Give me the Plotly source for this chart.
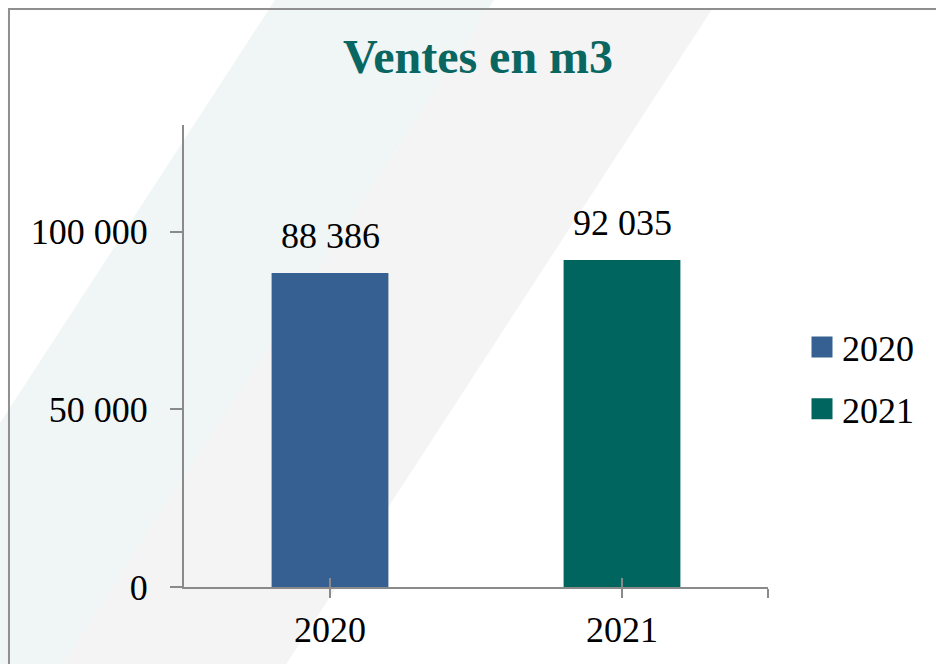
import plotly.graph_objects as go

# ---- data ----
categories = ["2020", "2021"]
values = [88386, 92035]
bar_colors = ["#366092", "#00645F"]
y_tick_vals = [0, 50000, 100000]
y_tick_text = ["0", "50 000", "100 000"]
title_text = "Ventes en m3"

FONT = "Liberation Serif, Times New Roman, serif"
AXIS_COLOR = "#8A8A8A"

W, H = 936, 664
L, R, T, B = 184, 168, 125, 77
PW, PH = W - L - R, H - T - B


def px2paper(px, py):
    return (px - L) / PW, (H - B - py) / PH


def path_from_px(points, close=True):
    pts = [px2paper(x, y) for x, y in points]
    return "M" + " L".join(f"{x:.4f},{y:.4f}" for x, y in pts) + (" Z" if close else "")


xs = list(range(len(categories)))

fig = go.Figure()
fig.add_trace(go.Bar(
    x=xs, y=values, width=0.4,
    marker=dict(color=bar_colors, line=dict(width=0)),
    showlegend=False, hoverinfo="skip",
))

# legend entries
for cat, col in zip(categories, bar_colors):
    fig.add_trace(go.Scatter(
        x=[None], y=[None], mode="markers", name=cat,
        legendgroup=cat, xaxis="x2", yaxis="y",
        marker=dict(symbol="square", size=16, color=col, line=dict(color=col, width=5)),
    ))

# value labels above bars
for x, v in zip(xs, values):
    fig.add_annotation(
        x=x, y=v, xref="x", yref="y", text=f"{v:,}".replace(",", " "),
        showarrow=False, yanchor="bottom", yshift=15,
        font=dict(family=FONT, size=36, color="#000000"),
    )

# background decoration (diagonal bands) and frame
def band(y0, y1, c0, c1, slope=0.65):
    return [(c0 - slope * y0, y0), (c1 - slope * y0, y0), (c1 - slope * y1, y1), (c0 - slope * y1, y1)]

shapes = [
    dict(type="path", xref="paper", yref="paper", layer="below",
         path=path_from_px(band(0, H, 275, 494)), fillcolor="#F0F5F5", line=dict(width=0)),
    dict(type="path", xref="paper", yref="paper", layer="below",
         path=path_from_px(band(9, H, 494, 718)), fillcolor="#F4F4F4", line=dict(width=0)),
    dict(type="path", xref="paper", yref="paper", layer="below",
         path=path_from_px([(9, H + 20), (9, 9), (W + 20, 9)], close=False),
         line=dict(color="#8F8F8F", width=2)),
]

tickvals_x = xs + [len(categories) - 0.5]
ticktext_x = categories + [""]

fig.update_layout(
    width=W, height=H,
    margin=dict(l=L, r=R, t=T, b=B, pad=0, autoexpand=False),
    paper_bgcolor="#FFFFFF", plot_bgcolor="rgba(0,0,0,0)",
    font=dict(family=FONT, size=36, color="#000000"),
    title=dict(text=f"<b>{title_text}</b>", x=478 / W, xanchor="center",
               y=(H - 56) / H, yanchor="middle", yref="container",
               font=dict(family=FONT, size=48, color="#0A6661")),
    shapes=shapes,
    xaxis=dict(range=[-0.5, len(categories) - 0.5], tickmode="array",
               tickvals=tickvals_x, ticktext=ticktext_x, automargin=False,
               ticks="outside", ticklen=9, tickwidth=2, tickcolor=AXIS_COLOR,
               showline=True, linecolor=AXIS_COLOR, linewidth=2,
               showgrid=False, zeroline=False, ticklabelstandoff=1,
               tickfont=dict(family=FONT, size=36, color="#000000")),
    xaxis2=dict(range=[-0.5, len(categories) - 0.5], overlaying="x", anchor="y",
                tickmode="array", tickvals=tickvals_x, ticktext=["", "", ""], automargin=False,
                ticks="inside", ticklen=9, tickwidth=2, tickcolor=AXIS_COLOR,
                showline=False, showgrid=False, zeroline=False, showticklabels=False),
    yaxis=dict(range=[0, 130000], tickmode="array", tickvals=y_tick_vals, ticktext=y_tick_text,
               automargin=False,
               ticks="outside", ticklen=12, tickwidth=2, tickcolor=AXIS_COLOR,
               showline=True, linecolor=AXIS_COLOR, linewidth=2,
               showgrid=False, zeroline=False, ticklabelstandoff=15,
               tickfont=dict(family=FONT, size=36, color="#000000")),
    legend=dict(x=(802 - L) / PW, xanchor="left", y=(H - B - 317) / PH, yanchor="top",
                bgcolor="rgba(0,0,0,0)", borderwidth=0,
                traceorder="grouped", tracegroupgap=12,
                font=dict(family=FONT, size=36, color="#000000")),
    bargap=0.6,
)

fig.write_html(
    "out.html",
    config={"displayModeBar": False},
    post_script="document.body.style.margin='0px';document.body.style.overflow='hidden';",
)
